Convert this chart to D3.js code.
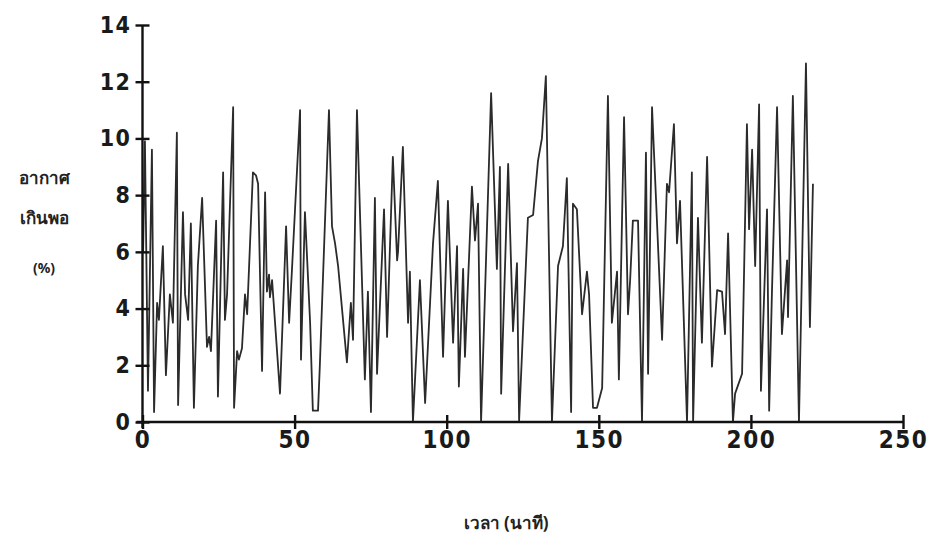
<!DOCTYPE html>
<html>
<head>
<meta charset="utf-8">
<script src="https://cdn.jsdelivr.net/npm/d3@7"></script>
<style>
  html, body { margin: 0; padding: 0; background: #fff; }
  svg { display: block; }
  .tick text { font-family: "DejaVu Sans Condensed", "DejaVu Sans", sans-serif; font-stretch: condensed; font-weight: bold; fill: #1a1a1a; letter-spacing: 1.5px; }
  .ttl { font-family: "Noto Sans", "DejaVu Sans", sans-serif; font-weight: bold; fill: #222; font-size: 17px; }
</style>
</head>
<body>
<svg id="chart" width="931" height="540"></svg>
<script>
// Excess air (%) against time (minutes)
const timeMin = [
  0.2, 0.8, 1.8, 3.1, 3.8, 4.8, 5.4, 5.8, 6.7, 7.7, 9.0, 10.0, 11.3, 11.7, 13.3, 14.0, 15.0, 15.9, 16.9, 18.2,
  19.6, 21.2, 21.9, 22.5, 24.2, 24.8, 26.5, 27.1, 27.8, 29.8, 30.1, 31.1, 31.7, 32.7, 33.7, 34.4, 36.3, 37.3, 38.0, 39.3,
  40.3, 40.9, 41.6, 41.9, 42.6, 45.2, 47.2, 48.2, 49.1, 51.8, 52.1, 53.4, 55.1, 56.0, 57.7, 58.3, 61.3, 62.3, 63.3, 64.3,
  67.2, 68.5, 69.2, 70.5, 73.1, 74.1, 75.1, 76.4, 77.1, 79.4, 80.4, 82.3, 83.7, 84.0, 85.6, 87.3, 87.9, 88.9, 91.2, 92.9,
  95.5, 97.1, 98.8, 100.4, 102.1, 103.4, 104.0, 105.4, 106.0, 108.3, 109.3, 110.3, 111.3, 114.6, 116.5, 117.5, 117.9, 120.2, 121.8, 123.1,
  123.8, 126.7, 128.4, 130.0, 131.3, 132.6, 134.6, 136.6, 138.2, 139.5, 140.9, 141.5, 142.8, 144.5, 146.1, 146.8, 148.1, 149.4, 151.1, 153.0,
  154.3, 156.0, 156.6, 158.3, 159.6, 160.3, 161.2, 162.9, 164.2, 165.5, 166.2, 167.5, 170.8, 172.4, 173.1, 174.7, 175.7, 176.7, 179.0, 180.6,
  181.0, 182.6, 183.9, 185.6, 187.2, 188.9, 190.5, 191.5, 192.5, 194.1, 194.8, 197.1, 198.7, 199.4, 200.4, 201.4, 202.7, 203.3, 205.3, 206.0,
  206.9, 208.6, 210.2, 211.9, 212.2, 213.8, 215.8, 218.1, 219.4, 220.4
];
const excessAir = [
  6.0, 9.9, 1.1, 9.6, 0.35, 4.2, 3.6, 4.4, 6.2, 1.65, 4.5, 3.5, 10.2, 0.6, 7.4, 4.5, 3.6, 7.0, 0.5, 5.5,
  7.9, 2.65, 3.0, 2.5, 7.1, 0.9, 8.8, 3.6, 4.5, 11.1, 0.5, 2.5, 2.2, 2.6, 4.5, 3.8, 8.8, 8.7, 8.4, 1.8,
  8.1, 4.6, 5.2, 4.4, 5.0, 1.0, 6.9, 3.5, 5.3, 11.0, 2.2, 7.4, 3.5, 0.4, 0.4, 2.0, 11.0, 6.9, 6.3, 5.5,
  2.1, 4.2, 2.9, 11.0, 1.5, 4.6, 0.35, 7.9, 1.7, 7.5, 3.0, 9.35, 5.7, 6.0, 9.7, 3.5, 5.3, 0.0, 5.0, 0.67,
  6.3, 8.5, 2.3, 7.8, 2.8, 6.2, 1.25, 5.4, 2.3, 8.3, 6.4, 7.7, 0.0, 11.6, 5.4, 9.0, 1.0, 9.1, 3.2, 5.6,
  0.05, 7.2, 7.3, 9.2, 10.0, 12.2, 0.0, 5.5, 6.2, 8.6, 0.35, 7.7, 7.5, 3.8, 5.3, 4.5, 0.5, 0.5, 1.2, 11.5,
  3.5, 5.3, 1.5, 10.75, 3.8, 5.0, 7.1, 7.1, 0.0, 9.5, 1.7, 11.1, 2.9, 8.4, 8.1, 10.5, 6.3, 7.8, 0.0, 8.8,
  0.0, 7.2, 2.8, 9.35, 1.95, 4.65, 4.6, 3.1, 6.65, 0.0, 1.0, 1.7, 10.5, 6.8, 9.6, 5.5, 11.2, 1.1, 7.5, 0.4,
  4.5, 11.1, 3.1, 5.7, 3.7, 11.5, 0.0, 12.65, 3.35, 8.4
];
const xTicks = [0, 50, 100, 150, 200, 250];
const yTicks = [0, 2, 4, 6, 8, 10, 12, 14];
const yTitleLines = ["อากาศ", "เกินพอ", "(%)"];
const xTitle = "เวลา (นาที)";

const svg = d3.select("#chart");
const x = d3.scaleLinear().domain([0, 250]).range([142.5, 903]);
const y = d3.scaleLinear().domain([0, 14]).range([422, 25]);

// data line
const series = timeMin.map((t, i) => ({ t, v: excessAir[i] }));
svg.append("path")
  .datum(series)
  .attr("fill", "none")
  .attr("stroke", "#2b2b2b")
  .attr("stroke-width", 1.8)
  .attr("stroke-linejoin", "round")
  .attr("d", d3.line().x(d => x(d.t)).y(d => y(d.v)));

// x axis, ticks crossing the line
const gx = svg.append("g")
  .attr("transform", `translate(0,${y(0)})`)
  .call(d3.axisBottom(x).tickValues(xTicks).tickFormat(d3.format("d")).tickSize(7).tickPadding(2));
gx.select(".domain").attr("d", `M${x(0) - 6},0H${x(250)}`).attr("stroke", "#111").attr("stroke-width", 2.4);
gx.selectAll(".tick line").attr("y1", -7).attr("y2", 7).attr("stroke", "#111").attr("stroke-width", 2.4);
gx.selectAll(".tick text").style("font-size", "24px");

// y axis, ticks crossing the line
const gy = svg.append("g")
  .attr("transform", `translate(${x(0)},0)`)
  .call(d3.axisLeft(y).tickValues(yTicks).tickFormat(d3.format("d")).tickSize(7).tickPadding(4));
gy.select(".domain").attr("d", `M0,${y(14)}V${y(0) + 6}`).attr("stroke", "#111").attr("stroke-width", 2.4);
gy.selectAll(".tick line").attr("x1", -7).attr("x2", 7).attr("stroke", "#111").attr("stroke-width", 2.4);
gy.selectAll(".tick text").style("font-size", "23px");

// axis titles
svg.append("g").selectAll("text")
  .data(yTitleLines)
  .join("text")
  .attr("class", "ttl")
  .attr("x", 44)
  .attr("y", (d, i) => [184, 224, 273][i])
  .attr("text-anchor", "middle")
  .style("font-size", (d, i) => i === 2 ? "14px" : "17px")
  .text(d => d);

svg.append("text")
  .attr("class", "ttl")
  .attr("x", 506)
  .attr("y", 529)
  .attr("text-anchor", "middle")
  .text(xTitle);
</script>
</body>
</html>
